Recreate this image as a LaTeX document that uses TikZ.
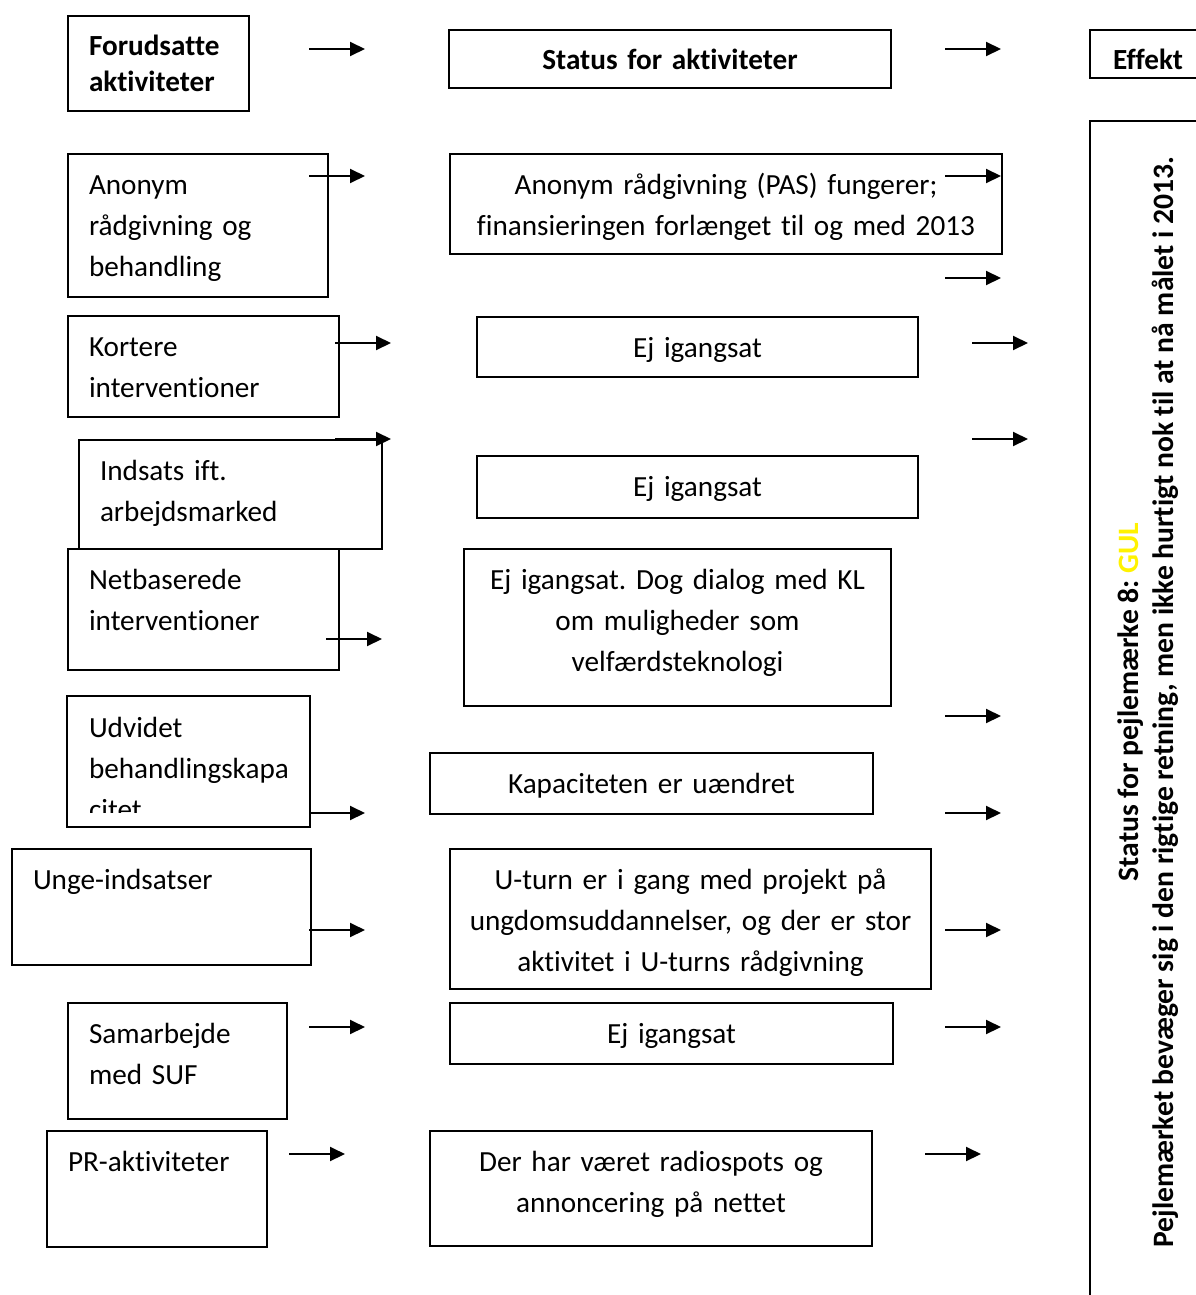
\documentclass[tikz,border=0pt]{standalone}
\usepackage{fontspec}
\setmainfont{Carlito}[Ligatures=NoCommon, Contextuals=NoAlternate]
\usetikzlibrary{arrows.meta}
\frenchspacing

% one unit = one pixel of the sheet, y runs downwards
\tikzset{
  box/.style={draw=black, line width=1pt, anchor=north west, inner ysep=0pt,
    text height=20pt, font=\fontsize{14.6pt}{20.5pt}\selectfont},
  lbox/.style 2 args={box, align=left, inner xsep=10.5pt, text width=#1pt, text depth=#2pt},
  mbox/.style 2 args={box, align=center, inner xsep=0pt, text width=#1pt, text depth=#2pt},
  arr/.style={-{Triangle[length=7.5pt,width=7pt]}, line width=1pt}
}

\begin{document}
\begin{tikzpicture}[x=0.5pt, y=-0.5pt]
  \useasboundingbox (0,0) rectangle (1195,1295);

  % headers
  \node[lbox={69.5}{27.5}, font=\bfseries\fontsize{14.6pt}{17.5pt}\selectfont] (fora) at (67,15) {Forudsatte\\aktiviteter};
  \node[mbox={221}{9}, font=\bfseries\fontsize{14.6pt}{20.5pt}\selectfont] (stat) at (448,29) {Status for aktiviteter};
  \node[lbox={77}{4}, inner xsep=11.5pt, font=\bfseries\fontsize{14.6pt}{20.5pt}\selectfont] (eff) at (1089,29) {Effekt};

  % left column: activities
  \node[lbox={109}{51.5}] (anon) at (67,153) {Anonym\\rådgivning og\\behandling};
  \node[lbox={114.5}{30.5}] (kort) at (67,315) {Kortere\\interventioner};
  \node[lbox={130.5}{34.5}] (inds) at (78,439) {Indsats ift.\\arbejdsmarked};
  \node[lbox={114.5}{40.5}] (netb) at (67,548) {Netbaserede\\interventioner};
  \begin{scope}
    \clip (60,690) rectangle (320,812);
    \node[lbox={99.5}{44.5}, draw=none] (udv) at (67,696) {Udvidet\\behandlingskapa\\citet};
  \end{scope}
  \draw[line width=1pt] (udv.north west) rectangle (udv.south east);
  \node[lbox={128.5}{38}] (unge) at (11,848) {Unge-indsatser};
  \node[lbox={88.5}{38}] (samb) at (67,1002) {Samarbejde\\med SUF};
  \node[lbox={89}{38}] (pr) at (46,1130) {PR-aktiviteter};

  % middle column: status
  \node[mbox={276}{30}] (pas) at (449,153) {Anonym rådgivning (PAS) fungerer;\\finansieringen forlænget til og med 2013};
  \node[mbox={220.5}{10}] (ej1) at (476,316) {Ej igangsat};
  \node[mbox={220.5}{11}] (ej2) at (476,455) {Ej igangsat};
  \node[mbox={213.5}{58.5}] (kl) at (463,548) {Ej igangsat. Dog dialog med KL\\om muligheder som\\velfærdsteknologi};
  \node[mbox={221.5}{10.5}] (kap) at (429,752) {Kapaciteten er uændret};
  \node[mbox={240.5}{50}] (uturn) at (449,848) {U-turn er i gang med projekt på\\ungdomsuddannelser, og der er stor\\aktivitet i U-turns rådgivning};
  \node[mbox={221.5}{10.5}] (ej3) at (449,1002) {Ej igangsat};
  \node[mbox={221}{37.5}] (radio) at (429,1130) {Der har været radiospots og\\annoncering på nettet};

  % right column: effect
  \node[draw=black, line width=1pt, anchor=north west, inner sep=0pt,
    minimum width=100pt, minimum height=600pt] (effbox) at (1089,120) {};
  \node[rotate=90, align=center, font=\bfseries\fontsize{14.8pt}{17.8pt}\selectfont] (maal) at (1148,702)
    {Status for pejlemærke 8: \textcolor{yellow}{GUL}\\Pejlemærket bevæger sig i den rigtige retning, men ikke hurtigt nok til at nå målet i 2013.};

  % arrows into the status column
  \foreach \x/\y [count=\i] in {309/49, 309/176, 335/343, 335/439, 326/639,
      309/813, 309/930, 309/1027, 289/1154} {
    \coordinate (l\i) at (\x,\y);
    \coordinate (l\i e) at (\x+56,\y);
    \draw[arr] (l\i) -- (l\i e);
  }

  % arrows into the effect column
  \foreach \x/\y [count=\i] in {945/49, 945/176, 945/278, 972/343, 972/439,
      945/716, 945/813, 945/930, 945/1027, 925/1154} {
    \coordinate (r\i) at (\x,\y);
    \coordinate (r\i e) at (\x+56,\y);
    \draw[arr] (r\i) -- (r\i e);
  }

\end{tikzpicture}
\end{document}
